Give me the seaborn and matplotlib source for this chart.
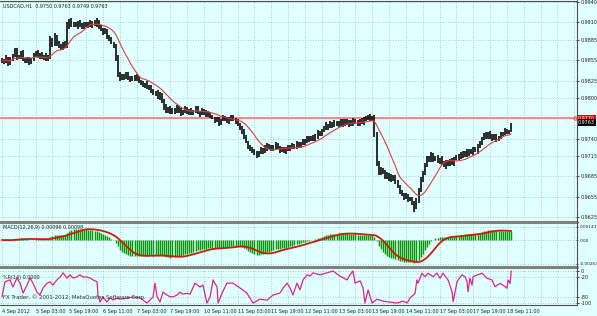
import numpy as np
import pandas as pd
import matplotlib
matplotlib.use("Agg")
import matplotlib.pyplot as plt
from matplotlib.lines import Line2D
from matplotlib import font_manager
import seaborn as sns

# ---------------- data (prices in pips, 1 pip = 0.0001) ----------------
first_open = 9853
close_pips = [
    9855, 9852, 9858, 9850, 9856,
    9862, 9870, 9858,
    9860, 9866, 9856,
    9853, 9857, 9851, 9855,
    9862, 9866, 9860, 9864,
    9859, 9861, 9856, 9860,
    9885, 9878, 9890, 9880, 9874,
    9872, 9880, 9876,
    9905, 9912, 9906,
    9908, 9905, 9910, 9906, 9904, 9908, 9906, 9909, 9905, 9910, 9907, 9912,
    9903,
    9900, 9895, 9898, 9890,
    9886, 9880, 9876,
    9858, 9835, 9828,
    9832, 9829, 9834, 9830, 9826, 9828, 9831, 9827, 9824,
    9822, 9818, 9820, 9814, 9816, 9810, 9806, 9808, 9800, 9804,
    9795, 9786, 9780, 9784, 9778,
    9782, 9779, 9785, 9781, 9776, 9780, 9783, 9778, 9781, 9777, 9780, 9784, 9779, 9776, 9781, 9778, 9774, 9777, 9772,
    9770, 9766, 9768, 9763, 9767, 9771, 9768, 9765, 9769, 9772, 9768, 9764, 9760,
    9756, 9750, 9742, 9735, 9728, 9725,
    9722, 9718, 9715, 9720, 9724, 9721, 9726, 9730, 9727, 9724, 9728, 9731, 9727, 9723, 9725, 9721, 9724, 9728, 9726, 9730, 9727, 9732, 9729,
    9733, 9737, 9735, 9740, 9738, 9742, 9739, 9744, 9748, 9746,
    9752, 9756, 9760, 9757, 9762, 9759, 9763,
    9760, 9764, 9761, 9766, 9762, 9765, 9760, 9763, 9767, 9764, 9761, 9766, 9763, 9768,
    9770, 9772, 9768, 9771,
    9745, 9705, 9690,
    9695, 9690, 9684, 9688, 9680, 9685, 9682, 9676, 9670,
    9662, 9658, 9654, 9656, 9650, 9652, 9646, 9640,
    9648,
    9665, 9680, 9690, 9700,
    9712, 9708, 9716, 9710, 9713, 9706, 9710,
    9704, 9700, 9706, 9702, 9708, 9704, 9710, 9714, 9712,
    9718, 9715, 9720, 9717, 9722, 9719, 9725, 9722, 9728, 9733,
    9740, 9745, 9742, 9748, 9744, 9740, 9743, 9738, 9742, 9746,
    9748, 9752, 9749, 9750, 9763,
]
upper_wick = [
    3, 2, 4, 2, 3,
    2, 3, 2,
    3, 2, 4,
    2, 3, 2, 3,
    4, 2, 3, 2,
    3, 2, 4, 2,
    5, 3, 4, 2, 3,
    4, 2, 3,
    5, 3, 4,
    2, 3, 2, 4, 3, 2, 3, 2, 4, 2, 3, 5,
    2,
    3, 2, 4, 3,
    2, 3, 2,
    3, 4, 2,
    3, 2, 4, 3, 2, 3, 2, 3, 4,
    2, 3, 2, 4, 3, 2, 3, 2, 3, 4,
    2, 3, 4, 2, 3,
    3, 2, 4, 2, 3, 2, 4, 3, 2, 3, 2, 4, 3, 2, 3, 2, 4, 3, 2,
    3, 2, 4, 3, 2, 3, 2, 4, 3, 2, 3, 2, 4,
    3, 2, 4, 3, 2, 3,
    2, 3, 4, 2, 3, 2, 4, 3, 2, 3, 2, 4, 3, 2, 3, 2, 4, 3, 2, 3, 2, 4, 3,
    2, 3, 2, 4, 3, 2, 3, 2, 4, 3,
    2, 3, 4, 2, 3, 2, 4,
    3, 2, 4, 3, 2, 3, 2, 4, 3, 2, 3, 2, 4, 3,
    3, 2, 4, 2,
    3, 4, 2,
    3, 2, 4, 3, 2, 3, 2, 4, 3,
    2, 3, 2, 4, 3, 2, 3, 2,
    5,
    3, 4, 3, 4,
    3, 2, 4, 3, 2, 3, 2,
    4, 3, 2, 3, 2, 4, 3, 2, 3,
    2, 3, 2, 4, 3, 2, 3, 2, 4, 3,
    2, 3, 4, 2, 3, 2, 4, 3, 2, 3,
    2, 3, 2, 3, 0,
]
lower_wick = [
    2, 3, 2, 4, 2,
    3, 2, 3,
    2, 4, 2,
    3, 2, 4, 2,
    2, 3, 2, 3,
    2, 4, 2, 3,
    3, 4, 3, 5, 2,
    3, 2, 4,
    3, 4, 2,
    3, 2, 4, 2, 3, 3, 2, 4, 2, 3, 2, 3,
    3,
    2, 3, 2, 4,
    3, 2, 4,
    4, 5, 3,
    2, 3, 2, 4, 3, 2, 3, 2, 3,
    3, 2, 4, 2, 3, 3, 2, 4, 2, 3,
    3, 4, 2, 3, 2,
    2, 3, 2, 4, 3, 2, 3, 2, 4, 2, 3, 2, 3, 4, 2, 3, 2, 3, 2,
    2, 3, 2, 4, 3, 2, 3, 2, 4, 3, 2, 3, 2,
    3, 4, 3, 2, 3, 4,
    3, 2, 4, 2, 3, 3, 2, 4, 2, 3, 2, 3, 2, 4, 3, 2, 3, 2, 4, 2, 3, 2, 3,
    3, 2, 4, 2, 3, 2, 3, 2, 4, 2,
    3, 2, 3, 4, 2, 3, 2,
    2, 3, 2, 4, 3, 2, 3, 2, 4, 3, 2, 3, 2, 3,
    2, 3, 2, 3,
    3, 5, 4,
    3, 2, 4, 3, 2, 3, 4, 2, 3,
    3, 2, 4, 2, 3, 2, 4, 8,
    3,
    3, 4, 3, 4,
    2, 3, 2, 4, 3, 2, 3,
    3, 2, 4, 3, 2, 3, 4, 2, 3,
    2, 3, 2, 4, 3, 2, 3, 2, 4, 2,
    3, 2, 3, 2, 4, 3, 2, 3, 2, 3,
    2, 3, 2, 3, 1,
]

# Williams %R(14) (bar index, value)
wpr_bar = [0, 1.4, 3.8, 5.2, 7.1, 8.6, 10, 11.9, 13.3, 14.7, 16.6, 18, 19.5, 21.4, 22.8, 24.2,
           26.1, 27.6, 29, 30.9, 32.3, 33.7, 35.6, 37, 38.5, 40.4, 41.8, 43.3, 45.2, 45.6, 46.6,
           48, 49.9, 51.3, 52.8, 54.7, 56.1, 59.4, 62.3, 65.6, 68.9, 71.8, 72.7, 73.7, 75.1, 76.5,
           78.4, 79.8, 81.3, 83.2, 84.6, 86, 87.9, 89.4, 91.7, 94.1, 95.5, 97.4, 98.9, 100.3, 102.2,
           102.7, 104.6, 106.9, 109.8, 113.1, 116.4, 119.3, 122.6, 126, 128.8, 132.1, 133.6, 135.5,
           136.9, 138.3, 140.2, 141.6, 143.1, 145, 146.4, 147.8, 151.1, 154.5, 157.3, 160.6, 164,
           165.4, 166.8, 167.8, 170.2, 171.6, 172.5, 174, 175.9, 178.2, 181.1, 184.4, 187.7, 190.6,
           192.5, 194, 196.3, 197.2, 197.7, 199.6, 201, 202.5, 204.9, 206.7, 208.2, 209.6, 212,
           213.9, 214.4, 216.3, 218.6, 220.1, 221, 221.5, 222.4, 223.4, 223.9, 226.2, 228.1, 230.5,
           232.9, 234.3, 236.7, 238.1, 240, 240.5, 241.5, 242]
wpr_val = [-80, -34, -28, -50, -22, -38, -69, -44, -22, -38, -66, -75, -53, -38, -34, -44,
           -28, -19, -6, -22, -12, -22, -19, -12, -19, -19, -22, -28, -34, -75, -97,
           -81, -97, -84, -90, -85, -88, -85, -81, -84, -100, -81, -38, -80, -97, -66,
           -75, -80, -81, -75, -66, -72, -70, -72, -38, -50, -44, -100, -81, -28, -50,
           -100, -69, -38, -38, -53, -69, -100, -88, -91, -75, -69, -53, -38,
           -53, -75, -38, -59, -28, -12, -16, -6, -12, -6, 0, -16, -28,
           -12, 0, -38, -31, -53, -100, -59, -100, -88, -94, -97, -100, -94,
           -100, -84, -70, -28, -38, -7, -18, -7, -18, -7, -23, -7, -28,
           -65, -96, -33, -12, -18, -33, -65, -23, -44, -18, -12, -7, -23,
           -28, -49, -39, -44, -54, -28, -39, 0]

time_labels = ["4 Sep 2012", "5 Sep 03:00", "5 Sep 19:00", "6 Sep 11:00", "7 Sep 03:00",
               "7 Sep 19:00", "10 Sep 11:00", "11 Sep 03:00", "11 Sep 19:00", "12 Sep 11:00",
               "13 Sep 03:00", "13 Sep 19:00", "14 Sep 11:00", "17 Sep 03:00", "17 Sep 19:00",
               "18 Sep 11:00"]
time_label_bars = [0, 16, 32, 48, 64, 80, 96, 112, 128, 144, 160, 176, 192, 208, 224, 240]
price_ticks = [0.9940, 0.9910, 0.9885, 0.9855, 0.9825, 0.9800, 0.9770, 0.9740, 0.9715,
               0.9685, 0.9655, 0.9625]
price_tick_labels = ["0.9940", "0.9910", "0.9885", "0.9855", "0.9825", "0.9800", "",
                     "0.9740", "0.9715", "0.9685", "0.9655", "0.9625"]
ask_level = 0.9770
bid_level = 0.9763
macd_ticks = [0.00143, 0.0, -0.00263]
macd_tick_labels = ["0.00143", "0.00", "-0.00263"]
wpr_ticks = [0, -20, -80, -100]
header = "USDCAD,H1  0.9750 0.9763 0.9749 0.9763"
macd_title = "MACD(12,26,9) 0.00096 0.00098"
wpr_title = "%R(14) 0.0000"
copyright_text = "FX Trader, \u00a9 2001-2012, MetaQuotes Software Corp."

# ---------------- derived series ----------------
close = np.array(close_pips, dtype=float) / 1e4
open_ = np.concatenate([[first_open / 1e4], close[:-1]])
high = np.maximum(open_, close) + np.array(upper_wick) / 1e4
low = np.minimum(open_, close) - np.array(lower_wick) / 1e4
n = len(close)
df = pd.DataFrame({"bar": np.arange(n), "close": close, "high": high, "low": low})
df["ma"] = df["close"].rolling(12, min_periods=1).mean()
ema12 = df["close"].ewm(span=12, adjust=False).mean()
ema26 = df["close"].ewm(span=26, adjust=False).mean()
df["macd"] = ema12 - ema26
df["signal"] = df["macd"].rolling(9, min_periods=1).mean()
wpr_df = pd.DataFrame({"bar": wpr_bar, "wpr": wpr_val})

# ---------------- styling ----------------
sns.set_style("white")
names = {f.name for f in font_manager.fontManager.ttflist}
if "Liberation Sans Narrow" in names:
    FONT = "Liberation Sans Narrow"
    FS = 4.6
else:
    FONT = "DejaVu Sans"
    FS = 3.5
plt.rcParams["font.family"] = [FONT, "DejaVu Sans"]
BG = "#e0ffff"
GRID = "#a7b9c0"
TXT = "#202020"

W, H = 597, 316
fig = plt.figure(figsize=(W / 100, H / 100), dpi=100)
fig.patch.set_facecolor(BG)


def px_axes(x0, y0, x1, y1):
    return fig.add_axes([x0 / W, 1 - y1 / H, (x1 - x0) / W, (y1 - y0) / H])


RIGHT = 576
ax1 = px_axes(0, 1, RIGHT, 220)
ax2 = px_axes(0, 223, RIGHT, 265)
ax3 = px_axes(0, 269, RIGHT, 304)

XL = (-0.95, (RIGHT - 2) / 2.104)
grid_bars = list(range(8, 273, 16))
for ax in (ax1, ax2, ax3):
    ax.set_facecolor(BG)
    ax.set_xlim(*XL)
    for s in ax.spines.values():
        s.set_visible(False)
    ax.yaxis.tick_right()
    ax.tick_params(axis="y", labelsize=FS, length=2, pad=1.5, colors=TXT, width=0.6)
    ax.set_xticks(time_label_bars + [256, 272])
    ax.set_xticks(grid_bars, minor=True)
    ax.tick_params(axis="x", which="minor", length=0)
    ax.grid(True, which="both", color=GRID, lw=0.6, ls=(0, (1, 2)))

# main price panel
ax1.set_ylim(0.96206, 0.99415)
ax1.set_yticks(price_ticks)
ax1.set_yticklabels(price_tick_labels)
ax1.tick_params(axis="x", length=0, labelbottom=False)
ax1.vlines(df["bar"], df["low"], df["high"], color="black", lw=1.15)
sns.lineplot(data=df, x="bar", y="ma", ax=ax1, color="#e03c3c", lw=0.8)
ax1.axhline(ask_level, color="#ef8a8a", lw=1.4, zorder=1)
ax1.plot([XL[1] - 0.6], [ask_level], marker="o", ms=2.5, mfc="none", mec="#e05050", mew=0.7,
         clip_on=False)
ytr = ax1.get_yaxis_transform()
ax1.text(1.003, ask_level, "0.9770", transform=ytr, fontsize=FS, color="white", va="center",
         ha="left", bbox=dict(boxstyle="square,pad=0.2", fc="#e00000", ec="none"))
ax1.text(1.003, bid_level, "0.9763", transform=ytr, fontsize=FS, color="white", va="center",
         ha="left", bbox=dict(boxstyle="square,pad=0.2", fc="black", ec="none"))
ax1.set_xlabel("")
ax1.set_ylabel("")

# MACD panel
ax2.set_ylim(-0.00275, 0.00187)
ax2.set_yticks(macd_ticks)
ax2.set_yticklabels(macd_tick_labels)
ax2.tick_params(axis="y", labelsize=FS * 0.88, pad=1.0, length=1.5)
ax2.tick_params(axis="x", length=0, labelbottom=False)
ax2.vlines(df["bar"], 0, df["macd"], color="#0a960a", lw=1.05)
sns.lineplot(data=df, x="bar", y="signal", ax=ax2, color="#c81e0a", lw=1.3)
ax2.set_xlabel("")
ax2.set_ylabel("")

# WPR panel
ax3.set_ylim(-103, 6)
ax3.set_yticks(wpr_ticks)
ax3.set_yticklabels([str(t) for t in wpr_ticks])
sns.lineplot(data=wpr_df, x="bar", y="wpr", ax=ax3, color="#e0238c", lw=0.9)
ax3.set_xticklabels(time_labels + ["", ""], ha="left")
ax3.tick_params(axis="x", labelsize=FS, length=2, pad=1.5, colors=TXT, width=0.6,
                direction="out")
ax3.set_xlabel("")
ax3.set_ylabel("")

# titles / texts
fig.text(3 / W, 1 - 6 / H, header, fontsize=FS, color=TXT, va="center", ha="left")
fig.text(3 / W, 1 - 228 / H, macd_title, fontsize=FS, color=TXT, va="center", ha="left")
fig.text(3 / W, 1 - 277 / H, wpr_title, fontsize=FS, color=TXT, va="center", ha="left")
fig.text(3 / W, 1 - 297 / H, copyright_text, fontsize=FS + 0.4, color="#303030", va="center",
         ha="left")


# frame lines (pixel coords)
def hline(y, x0, x1, lw, color):
    fig.add_artist(Line2D([x0 / W, x1 / W], [1 - y / H, 1 - y / H], lw=lw, color=color))


def vline(x, y0, y1, lw, color):
    fig.add_artist(Line2D([x / W, x / W], [1 - y0 / H, 1 - y1 / H], lw=lw, color=color))


hline(0.5, 0, RIGHT + 1, 0.8, "#505050")
hline(221.5, 0, RIGHT + 1, 2.2, "#808080")
hline(267.0, 0, RIGHT + 1, 2.2, "#808080")
hline(304.5, 0, RIGHT + 1, 0.8, "#505050")
vline(RIGHT + 0.5, 0, 305, 0.8, "#505050")

fig.savefig("out.png", dpi=100, facecolor=BG)
